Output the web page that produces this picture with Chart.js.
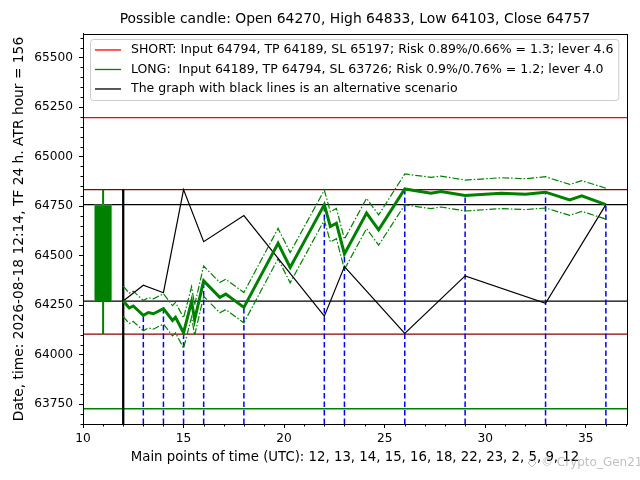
<!DOCTYPE html>
<html>
<head>
<meta charset="utf-8">
<script src="https://cdn.jsdelivr.net/npm/chart.js@4/dist/chart.umd.min.js"></script>
<style>
  html, body { margin: 0; padding: 0; background: #fff; }
</style>
</head>
<body>
<canvas id="myChart" width="640" height="480"></canvas>
<script>
// candle (open, high, low, close) shown at x = 11
var candleX = 11;
var candleOpen = 64270, candleHigh = 64833, candleLow = 64103, candleClose = 64757;
var startX = 12;

// main points of time (dashed blue lines)
var keyTimes = [13, 14, 15, 16, 18, 22, 23, 26, 29, 33, 36];

// main scenario (green) with its upper / lower bands
var mainX = [12, 12.3, 12.5, 13, 13.25, 13.5, 14, 14.45, 14.6, 15, 15.4, 15.55, 16, 16.8, 17.1, 18, 19.7, 20.3, 22, 22.3,
             22.6, 23, 24.1, 24.7, 26, 27.3, 27.8, 29, 30.8, 32, 33, 34.2, 34.8, 36];
var mainY = [64270, 64235, 64245, 64198, 64212, 64206, 64232, 64172, 64188, 64110, 64268, 64175, 64372, 64289, 64305, 64238, 64562, 64440, 64757, 64646,
             64663, 64508, 64714, 64630, 64836, 64815, 64823, 64803, 64815, 64810, 64820, 64781, 64801, 64757];
var upperY = [64345, 64310, 64320, 64273, 64287, 64281, 64307, 64247, 64263, 64185, 64343, 64250, 64447, 64364, 64380, 64313, 64637, 64515, 64830, 64721,
              64738, 64583, 64789, 64705, 64912, 64895, 64901, 64881, 64893, 64888, 64898, 64859, 64878, 64840];
var lowerY = [64192, 64157, 64167, 64120, 64134, 64128, 64154, 64094, 64110, 64032, 64190, 64097, 64294, 64211, 64227, 64160, 64484, 64362, 64679, 64568,
              64585, 64430, 64636, 64552, 64756, 64737, 64745, 64725, 64737, 64732, 64740, 64703, 64723, 64684];

// alternative scenario (black)
var altX = [12, 13, 14, 15, 16, 18, 22, 23, 26, 29, 33, 36];
var altY = [64270, 64350, 64312, 64833, 64570, 64702, 64194, 64444, 64107, 64397, 64259, 64757];

// horizontal levels
var redLevels = [65197];
var darkRedLevels = [64833, 64103];
var blackLevels = [64757, 64270];
var greenLevels = [63726];

// tick labels
var xTicks = [10, 15, 20, 25, 30, 35];
var yTicks = [63750, 64000, 64250, 64500, 64750, 65000, 65250, 65500];

var legendLabels = [
  "SHORT: Input 64794, TP 64189, SL 65197; Risk 0.89%/0.66% = 1.3; lever 4.6",
  "LONG:  Input 64189, TP 64794, SL 63726; Risk 0.9%/0.76% = 1.2; lever 4.0",
  "The graph with black lines is an alternative scenario"
];
var legendColors = ["#ff0000", "#008000", "#000000"];

var titleText = "Possible candle: Open 64270, High 64833, Low 64103, Close 64757";
var xTitle = "Main points of time (UTC): 12, 13, 14, 15, 16, 18, 22, 23, 2, 5, 9, 12";
var yTitle = "Date, time: 2026-08-18 12:14, TF 24 h. ATR hour = 156";

var xMin = 10, xMax = 37.05;
var yMin = 63649, yMax = 65619;

Chart.defaults.font.family = "DejaVu Sans";
Chart.defaults.color = "#000";

function pts(xs, ys) {
  return xs.map(function (x, i) { return {x: x, y: ys[i]}; });
}

var overlay = {
  id: "overlay",
  beforeDatasetsDraw: function (chart) {
    var ctx = chart.ctx, a = chart.chartArea;
    var xs = chart.scales.x, ys = chart.scales.y;
    ctx.save();
    function hl(list, color) {
      list.forEach(function (v) {
        var y = ys.getPixelForValue(v);
        ctx.strokeStyle = color;
        ctx.lineWidth = 1.3;
        ctx.beginPath(); ctx.moveTo(a.left, y); ctx.lineTo(a.right, y); ctx.stroke();
      });
    }
    hl(redLevels, "#ff0000");
    hl(darkRedLevels, "#8b0000");
    hl(blackLevels, "#000000");
    hl(greenLevels, "#008000");

    // dashed blue lines at main points of time
    ctx.strokeStyle = "#0000ff";
    ctx.lineWidth = 1.5;
    ctx.setLineDash([5.5, 3]);
    keyTimes.forEach(function (t) {
      var i = mainX.indexOf(t);
      var x = xs.getPixelForValue(t);
      ctx.beginPath(); ctx.moveTo(x, a.bottom); ctx.lineTo(x, ys.getPixelForValue(mainY[i])); ctx.stroke();
    });
    ctx.setLineDash([]);

    // start line
    ctx.strokeStyle = "#000";
    ctx.lineWidth = 2.3;
    var sx = xs.getPixelForValue(startX);
    ctx.beginPath(); ctx.moveTo(sx, a.bottom); ctx.lineTo(sx, ys.getPixelForValue(candleHigh)); ctx.stroke();
    ctx.restore();
  },
  afterDraw: function (chart) {
    var ctx = chart.ctx, a = chart.chartArea;
    var xs = chart.scales.x, ys = chart.scales.y;
    ctx.save();
    // minor ticks
    ctx.strokeStyle = "#000";
    ctx.lineWidth = 1;
    for (var v = Math.ceil(xMin); v <= xMax; v++) {
      if (v % 5 === 0) continue;
      var px = Math.round(xs.getPixelForValue(v)) + 0.5;
      ctx.beginPath(); ctx.moveTo(px, a.bottom); ctx.lineTo(px, a.bottom + 2.5); ctx.stroke();
    }
    for (var w = Math.ceil(yMin / 50) * 50; w <= yMax; w += 50) {
      if (w % 250 === 0) continue;
      var py = Math.round(ys.getPixelForValue(w)) + 0.5;
      ctx.beginPath(); ctx.moveTo(a.left - 2.5, py); ctx.lineTo(a.left, py); ctx.stroke();
    }
    // frame
    ctx.strokeRect(Math.round(a.left) + 0.5, Math.round(a.top) + 0.5, Math.round(a.right - a.left), Math.round(a.bottom - a.top));

    // legend
    ctx.font = "12.5px 'DejaVu Sans'";
    var maxW = 0;
    legendLabels.forEach(function (t) { maxW = Math.max(maxW, ctx.measureText(t).width); });
    var bx = a.left + 7, by = a.top + 5;
    var bw = 40 + maxW + 6, bh = 61;
    ctx.beginPath();
    ctx.roundRect(bx + 0.5, by + 0.5, bw, bh, 3);
    ctx.fillStyle = "rgba(255,255,255,0.8)";
    ctx.fill();
    ctx.strokeStyle = "#cccccc";
    ctx.stroke();
    ctx.textBaseline = "middle";
    legendLabels.forEach(function (t, i) {
      var y = by + 11 + i * 19.5;
      ctx.strokeStyle = legendColors[i];
      ctx.lineWidth = 1.3;
      ctx.beginPath(); ctx.moveTo(bx + 5, y); ctx.lineTo(bx + 31, y); ctx.stroke();
      ctx.fillStyle = "#000";
      ctx.fillText(t, bx + 41, y);
    });

    // watermark
    ctx.strokeStyle = "rgba(150,150,150,0.6)";
    ctx.lineWidth = 1;
    ctx.beginPath();
    ctx.moveTo(532, 459); ctx.lineTo(536, 463); ctx.lineTo(532, 467); ctx.lineTo(528, 463); ctx.closePath();
    ctx.stroke();
    ctx.font = "12px 'DejaVu Sans'";
    ctx.fillStyle = "rgba(150,150,150,0.6)";
    ctx.fillText("\u00a9 Crypto_Gen21", 541, 463);
    ctx.restore();
  }
};

new Chart("myChart", {
  type: "line",
  data: {
    datasets: [
      {
        type: "bar",
        data: [{x: candleX, y: [candleOpen, candleClose]}],
        backgroundColor: "#008000",
        borderColor: "rgba(120,190,120,0.7)",
        borderWidth: 1,
        barThickness: 18,
        order: 2
      },
      {
        data: [{x: candleX, y: candleLow}, {x: candleX, y: candleHigh}],
        borderColor: "#008000",
        borderWidth: 2,
        pointRadius: 0,
        order: 3
      },
      {
        data: pts(altX, altY),
        borderColor: "#000000",
        borderWidth: 1.2,
        pointRadius: 0,
        order: 1
      },
      {
        data: pts(mainX, upperY),
        borderColor: "#008000",
        borderWidth: 1.2,
        borderDash: [7, 2, 1.5, 2],
        pointRadius: 0,
        order: 1
      },
      {
        data: pts(mainX, lowerY),
        borderColor: "#008000",
        borderWidth: 1.2,
        borderDash: [7, 2, 1.5, 2],
        pointRadius: 0,
        order: 1
      },
      {
        data: pts(mainX, mainY),
        borderColor: "#008000",
        borderWidth: 3,
        pointRadius: 0,
        order: 0
      }
    ]
  },
  options: {
    responsive: false,
    animation: false,
    devicePixelRatio: 1,
    layout: {padding: {left: 0, right: 13, top: 0, bottom: 0}},
    plugins: {
      legend: {display: false},
      tooltip: {enabled: false},
      title: {
        display: true,
        text: titleText,
        fullSize: false,
        font: {size: 13.9, weight: "normal"},
        color: "#000",
        padding: {top: 10.7, bottom: 6.6}
      }
    },
    scales: {
      x: {
        type: "linear",
        min: xMin,
        max: xMax,
        offset: false,
        afterBuildTicks: function (s) { s.ticks = xTicks.map(function (v) { return {value: v}; }); },
        ticks: {padding: 4, font: {size: 12.2}, color: "#000", maxRotation: 0, autoSkip: false,
                callback: function (v) { return String(v); }},
        grid: {drawOnChartArea: false, tickLength: 4, color: "#000", offset: false},
        border: {color: "#000"},
        title: {display: true, text: xTitle, font: {size: 13.3}, color: "#000", padding: {top: 0, bottom: 14}},
        afterFit: function (s) { s.height = 56; }
      },
      y: {
        type: "linear",
        min: yMin,
        max: yMax,
        afterBuildTicks: function (s) { s.ticks = yTicks.map(function (v) { return {value: v}; }); },
        ticks: {padding: 6, font: {size: 12.2}, color: "#000", autoSkip: false,
                callback: function (v) { return String(v); }},
        grid: {drawOnChartArea: false, tickLength: 4, color: "#000"},
        border: {color: "#000"},
        title: {display: true, text: yTitle, font: {size: 13.8}, color: "#000", padding: {top: 10.7, bottom: 0}},
        afterFit: function (s) { s.width = 83; }
      }
    }
  },
  plugins: [overlay]
});
</script>
</body>
</html>
